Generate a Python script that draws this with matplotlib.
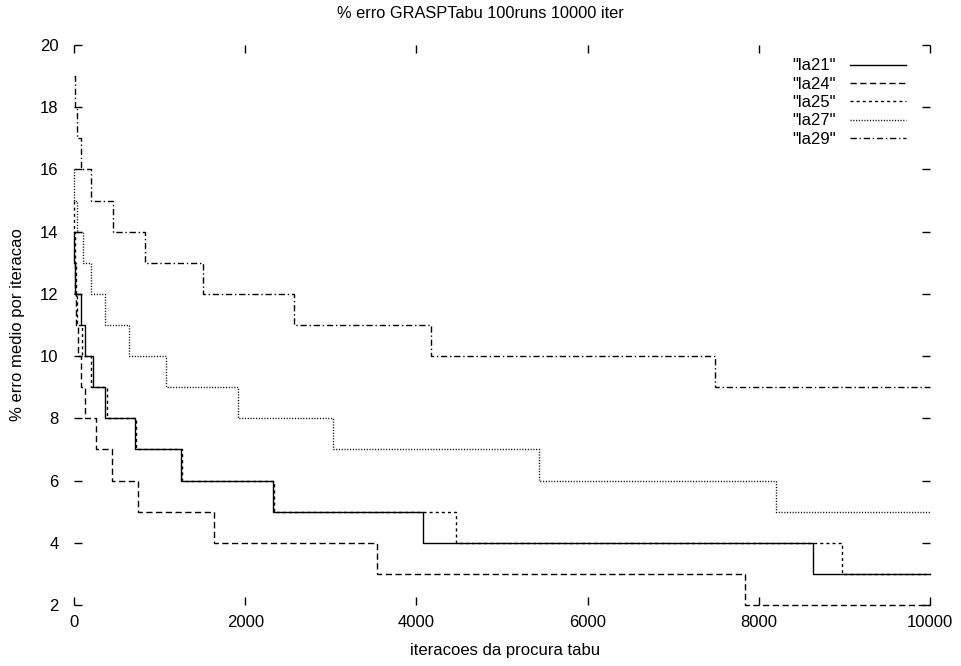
import matplotlib
matplotlib.use("Agg")
import matplotlib.pyplot as plt

plt.rcParams['font.family'] = ['Liberation Sans', 'DejaVu Sans']

# Step data: iteration where value changes (post-steps), and the values
la21_x = [0, 3, 15, 85, 125, 222, 366, 713, 1250, 2325, 4077, 8633, 10000]
la21_y = [14, 13, 12, 11, 10, 9, 8, 7, 6, 5, 4, 3, 3]

la24_x = [0, 10, 25, 47, 78, 125, 257, 444, 748, 1636, 3540, 7840, 10000]
la24_y = [13, 12, 11, 10, 9, 8, 7, 6, 5, 4, 3, 2, 2]

la25_x = [0, 5, 15, 25, 40, 93, 195, 385, 725, 1260, 2340, 4463, 8972, 10000]
la25_y = [15, 14, 13, 12, 11, 10, 9, 8, 7, 6, 5, 4, 3, 3]

la27_x = [0, 5, 35, 105, 195, 366, 643, 1075, 1916, 3026, 5432, 8200, 10000]
la27_y = [16, 15, 14, 13, 12, 11, 10, 9, 8, 7, 6, 5, 5]

la29_x = [0, 8, 35, 85, 200, 456, 829, 1507, 2570, 4165, 7490, 10000]
la29_y = [19, 18, 17, 16, 15, 14, 13, 12, 11, 10, 9, 9]

x_ticks = [0, 2000, 4000, 6000, 8000, 10000]
y_ticks = [2, 4, 6, 8, 10, 12, 14, 16, 18, 20]

title = '% erro GRASPTabu 100runs 10000 iter'
xlabel = 'iteracoes da procura tabu'
ylabel = '% erro medio por iteracao'

fig = plt.figure(figsize=(9.61, 6.66), dpi=100)
ax = fig.add_axes([74/961, 1-605/666, (930-74)/961, (605-45)/666])

lw = 1.0
kw = dict(where='post', color='black', lw=lw, clip_on=False)
ax.step(la21_x, la21_y, linestyle='-', label='"la21"', **kw)
ax.step(la24_x, la24_y, linestyle=(0, (4.5, 2.5)), label='"la24"', **kw)
ax.step(la25_x, la25_y, linestyle=(0, (2.2, 2.2)), label='"la25"', **kw)
ax.step(la27_x, la27_y, linestyle=(0, (0.8, 1.2)), label='"la27"', **kw)
ax.step(la29_x, la29_y, linestyle=(0, (4.5, 2, 1, 2)), label='"la29"', **kw)

ax.set_xlim(0, 10000)
ax.set_ylim(2, 20)
ax.set_xticks(x_ticks)
ax.set_yticks(y_ticks)
for s in ax.spines.values():
    s.set_visible(False)
ax.tick_params(direction='in', length=6, width=1, top=True, right=True,
               labelsize=12, color='black')
ax.tick_params(axis='y', pad=11)
ax.tick_params(axis='x', pad=7)

fig.text(0.5, 1-14/666, title, fontsize=11.8, ha='center', va='center')
fig.text(505/961, 1-651/666, xlabel, fontsize=12, ha='center', va='center')
fig.text(18/961, 1-325/666, ylabel, fontsize=12, ha='center', va='center', rotation=90)

leg = ax.legend(loc='upper right', bbox_to_anchor=(0.98, 0.988), frameon=False,
                markerfirst=False, fontsize=12, handlelength=3.4, handletextpad=0.8,
                labelspacing=0.2, borderaxespad=0)

fig.savefig('out.png', dpi=100)
